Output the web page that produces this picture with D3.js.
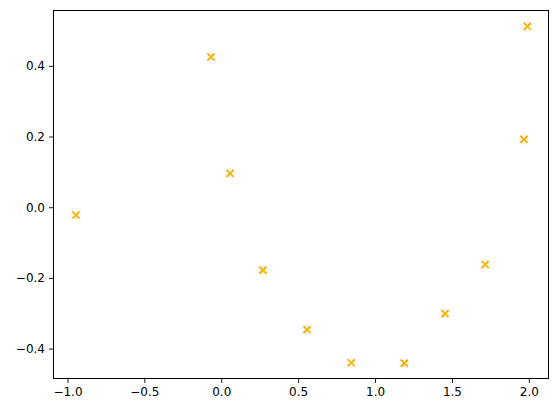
<!DOCTYPE html>
<html>
<head>
<meta charset="utf-8">
<script src="https://cdn.jsdelivr.net/npm/d3@7"></script>
<style>
  body { margin: 0; background: #fff; }
  svg { display: block; }
  .tick text { font-family: "DejaVu Sans", sans-serif; font-size: 12px; fill: #000; }
</style>
</head>
<body>
<svg id="chart" width="559" height="413"></svg>
<script>
const xValues = [-0.945, -0.067, 0.057, 0.271, 0.557, 0.845, 1.19, 1.455, 1.715, 1.968, 1.99];
const yValues = [-0.022, 0.425, 0.096, -0.178, -0.346, -0.44, -0.441, -0.301, -0.162, 0.192, 0.512];
const xTicks = [-1.0, -0.5, 0.0, 0.5, 1.0, 1.5, 2.0];
const yTicks = [-0.4, -0.2, 0.0, 0.2, 0.4];

const margin = { top: 10, right: 10, bottom: 34, left: 53 };
const width = 559 - margin.left - margin.right;
const height = 413 - margin.top - margin.bottom;

const points = xValues.map((x, i) => ({ x, y: yValues[i] }));

const svg = d3.select("#chart");
const g = svg.append("g").attr("class", "chart").attr("transform", `translate(${margin.left},${margin.top})`);

const xScale = d3.scaleLinear().domain([-1.094, 2.131]).range([0, width]);
const yScale = d3.scaleLinear().domain([-0.486, 0.558]).range([height, 0]);

// markers: orange x with a yellow x over it
function cross(sel, size) {
  const s = size / 2;
  sel.append("path").attr("d", `M${-s},${-s}L${s},${s}M${-s},${s}L${s},${-s}`);
}

const marks = g.selectAll("g.mark")
  .data(points)
  .join("g")
  .attr("class", "mark")
  .attr("transform", (d) => `translate(${xScale(d.x)},${yScale(d.y)})`);

marks.append("circle").attr("r", 6).attr("fill", "#f4e4ec").attr("opacity", 0.35);

marks.append("g").attr("stroke", "#ff9a00").attr("stroke-width", 1.6).attr("fill", "none")
  .call(cross, 7);
marks.append("g").attr("stroke", "#e0d000").attr("stroke-width", 1.3).attr("fill", "none").attr("opacity", 0.8)
  .attr("transform", "translate(0.6,0.4)")
  .call(cross, 6);

const xAxis = g.append("g")
  .attr("transform", `translate(0,${height})`)
  .call(d3.axisBottom(xScale).tickValues(xTicks).tickFormat(d3.format(".1f")).tickSizeOuter(0).tickSize(4).tickPadding(4));

const yAxis = g.append("g")
  .call(d3.axisLeft(yScale).tickValues(yTicks).tickFormat(d3.format(".1f")).tickSizeOuter(0).tickSize(4).tickPadding(4));

[xAxis, yAxis].forEach((a) => {
  a.select(".domain").remove();
  a.selectAll(".tick line").attr("stroke", "#000").attr("stroke-width", 0.9);
});
// minus sign like matplotlib
g.selectAll(".tick text").text((d) => d3.format(".1f")(d).replace("-", "\u2212"));

g.append("rect")
  .attr("x", 0.5)
  .attr("y", 0.5)
  .attr("width", width - 1)
  .attr("height", height - 1)
  .attr("fill", "none")
  .attr("stroke", "#000")
  .attr("stroke-width", 1);
</script>
</body>
</html>
